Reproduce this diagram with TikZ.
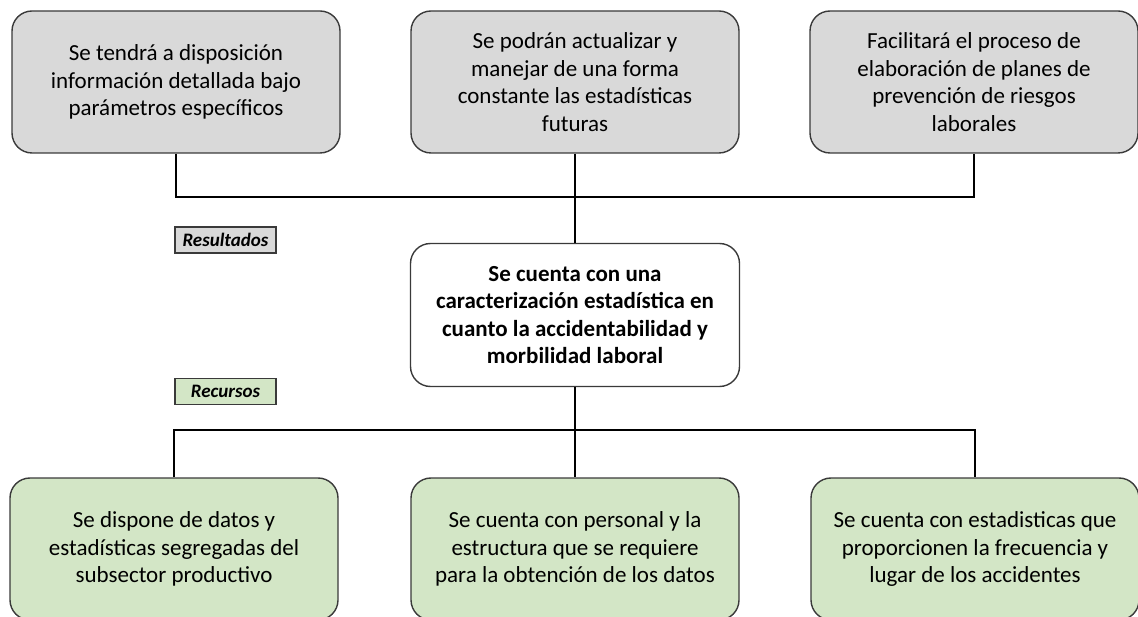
\documentclass[tikz,border=0pt]{standalone}
\usepackage{fontspec}
\setmainfont{Carlito}
\usepackage{tikz}
\usetikzlibrary{positioning}

\definecolor{boxgray}{HTML}{D9D9D9}
\definecolor{boxgreen}{HTML}{D3E6C6}
\definecolor{boxline}{HTML}{3A3A3A}

\begin{document}
\begin{tikzpicture}[
            x=1pt, y=-1pt,
            card/.style={draw=boxline, line width=1.4pt, rounded corners=20pt, minimum width=328pt, minimum height=142pt, align=center, font=\fontsize{23}{27.5}\selectfont}, % Base box
            result/.style={card, fill=boxgray}, % Upper boxes
            resource/.style={card, fill=boxgreen}, % Lower boxes
            tag/.style={draw=boxline, line width=1.2pt, minimum width=101pt, minimum height=26pt, inner sep=0pt, font=\fontsize{19}{22}\selectfont\bfseries\itshape}, % Small labels
            link/.style={line width=2.6pt} % Connectors
            ]
        \useasboundingbox (0,0) rectangle (1138,617);

            % Upper row: results
            \node[result] (res1) at (176,82) {Se tendrá a disposición\\información detallada bajo\\parámetros específicos};
            \node[result] (res2) at (575,82) {Se podrán actualizar y\\manejar de una forma\\constante las estadísticas\\futuras};
            \node[result] (res3) at (974,82) {Facilitará el proceso de\\elaboración de planes de\\prevención de riesgos\\laborales};

            % Central objective
            \node[card, fill=white, minimum width=329pt, minimum height=143pt, font=\fontsize{23}{27.5}\selectfont\bfseries] (obj) at (575,315) {Se cuenta con una\\caracterización estadística en\\cuanto la accidentabilidad y\\morbilidad laboral};

            % Lower row: resources
            \node[resource] (rec1) at (174,549) {Se dispone de datos y\\estadísticas segregadas del\\subsector productivo};
            \node[resource] (rec2) at (575,549) {Se cuenta con personal y la\\estructura que se requiere\\para la obtención de los datos};
            \node[resource] (rec3) at (975,549) {Se cuenta con estadisticas que\\proporcionen la frecuencia y\\lugar de los accidentes};

            % Labels
            \node[tag, fill=boxgray] (tres) at (225.5,240) {Resultados};
            \node[tag, fill=boxgreen] (trec) at (225.5,391.5) {Recursos};

            % Connectors
            \coordinate (up) at (575,197);
            \coordinate (down) at (575,430);
            \draw[link] (res1.south) |- (up) -| (res3.south);
            \draw[link] (res2.south) -- (obj.north);
            \draw[link] (obj.south) -- (down);
            \draw[link] (rec1.north) |- (down) -| (rec3.north);
            \draw[link] (down) -- (rec2.north);

\end{tikzpicture}
\end{document}
